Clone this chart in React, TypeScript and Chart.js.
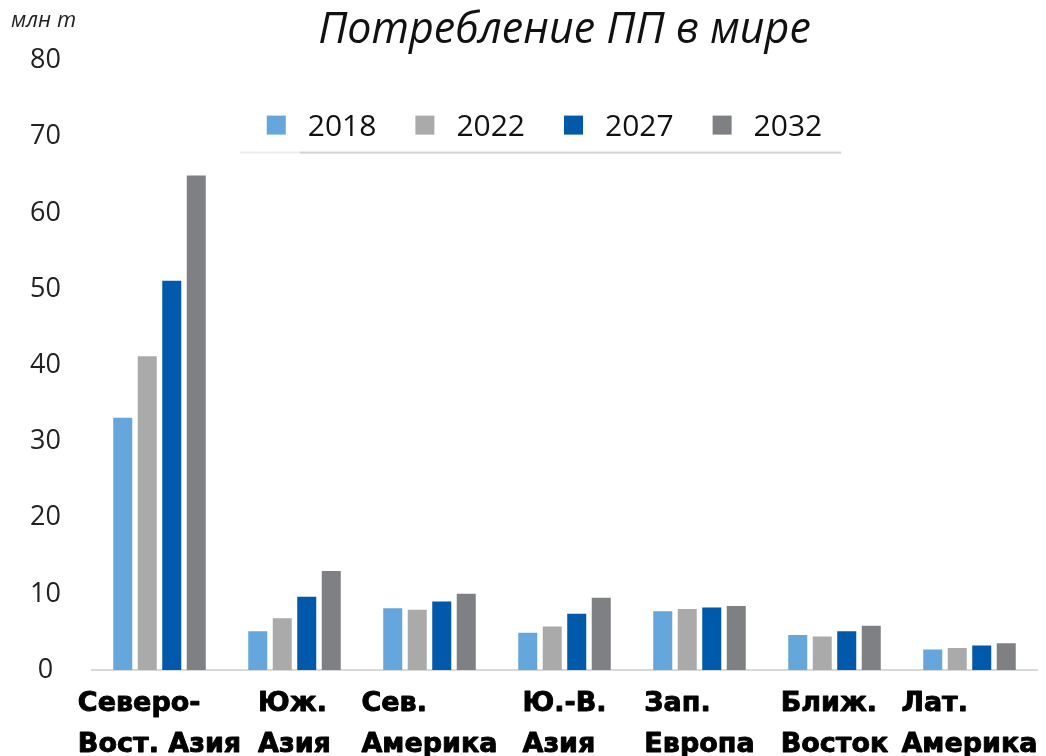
import React, { useEffect, useRef } from "react";
import { Chart, registerables } from "chart.js";

Chart.register(...registerables);

const categories: string[][] = [
  ["Северо-", "Вост. Азия"],
  ["Юж.", "Азия"],
  ["Сев.", "Америка"],
  ["Ю.-В.", "Азия"],
  ["Зап.", "Европа"],
  ["Ближ.", "Восток"],
  ["Лат.", "Америка"],
];
const seriesLabels = ["2018", "2022", "2027", "2032"];
const values2018 = [33.1, 5.1, 8.1, 4.9, 7.7, 4.6, 2.7];
const values2022 = [41.2, 6.8, 7.9, 5.7, 8.0, 4.4, 2.9];
const values2027 = [51.1, 9.6, 9.0, 7.4, 8.2, 5.1, 3.2];
const values2032 = [64.9, 13.0, 10.0, 9.5, 8.4, 5.8, 3.5];
const seriesColors = ["#65A7DD", "#AAAAAA", "#0059AA", "#7F8084"];
const yTicks = { min: 0, max: 80, step: 10 };
const titleText = "Потребление ПП в мире";
const unitText = "млн т";

const overlayPlugin = {
  id: "overlay",
  afterDraw(chart: any) {
    const { ctx, chartArea } = chart;
    const xScale = chart.scales.x;
    ctx.save();
    // unit label
    ctx.font = "italic 22px 'Open Sans'";
    ctx.fillStyle = "#222";
    ctx.textAlign = "left";
    ctx.textBaseline = "alphabetic";
    ctx.fillText(unitText, 11, 27);

    // category labels (left-aligned block centred under each group)
    ctx.font = "bold 27px 'DejaVu Sans'";
    ctx.fillStyle = "#000";
    ctx.strokeStyle = "#000";
    ctx.lineWidth = 0.9;
    ctx.lineJoin = "round";
    categories.forEach((lines, i) => {
      const widest = Math.max(...lines.map((l) => ctx.measureText(l).width));
      const x0 = xScale.getPixelForValue(i) - widest / 2;
      lines.forEach((l, j) => {
        const y = chartArea.bottom + 41 + j * 41;
        ctx.fillText(l, x0, y);
        ctx.strokeText(l, x0, y);
      });
    });

    // legend
    ctx.font = "30px 'Open Sans'";
    const boxSize = 19;
    const gapAfterBox = 22;
    const gapAfterText = 39;
    const items = chart.data.datasets.map((ds: any) => ({
      text: ds.label,
      color: ds.backgroundColor,
      w: ctx.measureText(ds.label).width,
    }));
    let total = 0;
    items.forEach((it: any, k: number) => {
      total += boxSize + gapAfterBox + it.w + (k < items.length - 1 ? gapAfterText : 0);
    });
    const centre = (chartArea.left + chartArea.right) / 2 - 20;
    let x = centre - total / 2;
    const startX = x;
    const baseY = chartArea.top + 75;
    items.forEach((it: any) => {
      ctx.fillStyle = it.color;
      ctx.fillRect(x, chartArea.top + 55, boxSize, boxSize);
      x += boxSize + gapAfterBox;
      ctx.fillStyle = "#111";
      ctx.fillText(it.text, x, baseY);
      x += it.w + gapAfterText;
    });
    const endX = startX + total;
    ctx.fillStyle = "#EEEEEE";
    ctx.fillRect(startX - 27, chartArea.top + 91, 60, 2);
    ctx.fillStyle = "#D3D3D3";
    ctx.fillRect(startX + 33, chartArea.top + 91, endX + 19 - (startX + 33), 2);
    ctx.restore();
  },
};

export default function App() {
  const canvasRef = useRef<HTMLCanvasElement | null>(null);

  useEffect(() => {
    document.body.style.margin = "0";
    const canvas = canvasRef.current;
    if (!canvas) return;
    const valueSets = [values2018, values2022, values2027, values2032];
    const chart = new Chart(canvas, {
      type: "bar",
      data: {
        labels: categories.map((c) => c.join(" ")),
        datasets: seriesLabels.map((label, k) => ({
          label,
          data: valueSets[k],
          backgroundColor: seriesColors[k],
          borderWidth: 0,
          categoryPercentage: 0.726,
          barPercentage: 0.776,
        })),
      },
      options: {
        responsive: false,
        animation: false,
        layout: { padding: { left: 0, right: 9, top: 0, bottom: 0 } },
        plugins: {
          legend: { display: false },
          tooltip: { enabled: false },
          title: {
            display: true,
            text: titleText,
            fullSize: false,
            color: "#111",
            font: { family: "'Open Sans'", size: 43, style: "italic", weight: "normal" },
            padding: { top: 5, bottom: 4 },
          },
        },
        scales: {
          x: {
            grid: { display: false },
            border: { display: true, color: "#D9D9D9", width: 2 },
            ticks: { display: false },
            afterFit: (s: any) => {
              s.height = 86;
            },
          },
          y: {
            min: yTicks.min,
            max: yTicks.max,
            grid: { display: false, drawTicks: false },
            border: { display: false },
            ticks: {
              stepSize: yTicks.step,
              crossAlign: "center",
              padding: 31,
              color: "#222",
              font: { family: "'Open Sans'", size: 27 },
            },
            afterFit: (s: any) => {
              s.width = 92;
            },
          },
        },
      },
      plugins: [overlayPlugin],
    });
    return () => chart.destroy();
  }, []);

  return <canvas ref={canvasRef} width={1046} height={756} style={{ display: "block" }} />;
}
